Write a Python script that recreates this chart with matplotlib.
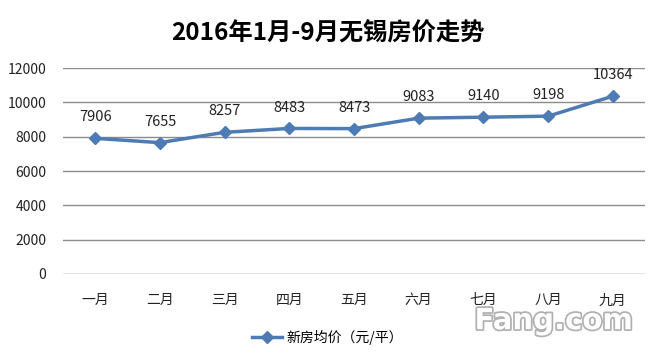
import matplotlib
matplotlib.use("Agg")
import matplotlib.pyplot as plt
import matplotlib.patheffects as pe

plt.rcParams['font.family'] = ['Noto Sans CJK SC', 'DejaVu Sans']

months = ['一月', '二月', '三月', '四月', '五月', '六月', '七月', '八月', '九月']
prices = [7906, 7655, 8257, 8483, 8473, 9083, 9140, 9198, 10364]
yticks = [0, 2000, 4000, 6000, 8000, 10000, 12000]

color = '#4e7bb4'

fig = plt.figure(figsize=(6.55, 3.53), dpi=100)
ax = fig.add_axes([0.096, 0.224, 0.889, 0.583])

x = list(range(len(months)))
ax.plot(x, prices, color=color, lw=2.5, marker='D', ms=6, label='新房均价（元/平）')

# data labels above each point
for xi, v in zip(x, prices):
    ax.annotate(str(v), (xi, v), xytext=(0, 10), textcoords='offset points',
                ha='center', va='bottom', fontsize=10.5, color='#222222')

ax.set_xlim(-0.5, len(months) - 0.5)
ax.set_ylim(0, 12000)
ax.set_yticks(yticks)
ax.set_xticks(x)
ax.set_xticklabels(months)
ax.tick_params(length=0, labelsize=10, colors='#222222')
ax.tick_params(axis='y', pad=12)
ax.tick_params(axis='x', pad=14)
ax.grid(axis='y', color='#8c8c8c', lw=1)
ax.set_axisbelow(True)
for s in ax.spines.values():
    s.set_visible(False)

fig.suptitle('2016年1月-9月无锡房价走势', y=0.94, fontsize=17.5, fontweight='bold')

fig.legend(loc='center', bbox_to_anchor=(0.5, 0.045), frameon=False, fontsize=10,
           handlelength=2.2, handletextpad=0.3)

# watermark
fig.text(0.845, 0.09, 'Fang.com', ha='center', va='center', fontsize=21, fontweight='bold',
         color='white', family='DejaVu Sans',
         path_effects=[pe.withStroke(linewidth=2.5, foreground='#b0b0b0')])

fig.savefig('out.png', dpi=100, facecolor='white')
